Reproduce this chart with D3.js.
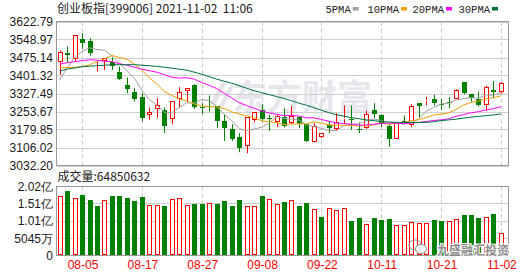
<!DOCTYPE html>
<html><head><meta charset="utf-8">
<script src="https://cdn.jsdelivr.net/npm/d3@7"></script>
<style>html,body{margin:0;padding:0;background:#fff;} svg{display:block;}</style>
</head><body>
<svg id="c" width="530" height="276"></svg>
<script>
// ---------- data ----------
const dates = ["08-02","08-03","08-04","08-05","08-06","08-09","08-10","08-11","08-12","08-13",
"08-16","08-17","08-18","08-19","08-20","08-23","08-24","08-25","08-26","08-27",
"08-30","08-31","09-01","09-02","09-03","09-06","09-07","09-08","09-09","09-10",
"09-13","09-14","09-15","09-16","09-17","09-22","09-23","09-24","09-27","09-28",
"09-29","09-30","10-08","10-11","10-12","10-13","10-14","10-15","10-18","10-19",
"10-20","10-21","10-22","10-25","10-26","10-27","10-28","10-29","11-01","11-02"];
const open  = [3454.7,3494.0,3467.0,3550.2,3540.8,3461.0,3460.0,3457.1,3417.7,3362.8,
3332.8,3312.3,3239.8,3261.9,3257.8,3222.1,3305.4,3335.7,3362.8,3270.1,
3276.0,3274.2,3212.7,3181.1,3147.1,3110.2,3219.3,3257.8,3228.0,3211.1,
3229.1,3204.5,3231.6,3201.6,3127.8,3147.1,3198.7,3181.1,3222.1,3222.1,
3183.0,3188.0,3257.8,3239.8,3194.6,3141.3,3216.0,3198.7,3287.7,3300.0,
3305.4,3285.0,3292.0,3305.4,3373.9,3324.6,3305.4,3278.3,3342.3,3331.6];
const high  = [3503.9,3520.3,3566.0,3574.8,3554.3,3463.5,3472.0,3475.2,3438.2,3393.1,
3349.3,3328.7,3270.1,3308.3,3270.1,3295.5,3353.4,3350.0,3365.0,3287.7,
3319.3,3275.0,3239.8,3201.6,3164.7,3230.0,3250.5,3283.6,3239.8,3239.8,
3267.2,3276.7,3232.0,3202.0,3205.7,3164.0,3212.7,3246.7,3278.3,3278.3,
3208.6,3257.8,3287.7,3241.0,3201.6,3209.0,3237.3,3283.6,3288.0,3312.3,
3321.8,3305.4,3312.3,3345.2,3374.2,3325.0,3335.7,3360.3,3379.2,3373.9];
const low   = [3403.8,3451.8,3458.8,3510.4,3483.4,3417.7,3424.3,3424.3,3383.3,3328.7,
3294.7,3212.7,3219.3,3226.2,3165.9,3201.6,3270.1,3294.7,3264.4,3243.9,
3253.7,3185.2,3133.1,3133.1,3086.8,3082.7,3208.6,3212.7,3174.2,3190.5,
3188.0,3201.6,3185.2,3129.0,3127.0,3146.5,3164.7,3174.2,3201.6,3178.3,
3164.7,3182.3,3226.2,3190.5,3108.5,3140.8,3205.7,3189.3,3229.1,3278.3,
3278.3,3260.3,3267.2,3305.0,3324.6,3294.7,3274.2,3256.2,3308.3,3327.5];
const close = [3498.1,3483.4,3565.4,3533.8,3494.0,3461.2,3471.1,3442.3,3386.2,3345.2,
3304.1,3226.2,3249.6,3278.3,3194.6,3294.7,3332.8,3349.3,3270.1,3267.0,
3274.2,3215.2,3185.2,3141.3,3103.2,3229.1,3249.6,3222.1,3226.2,3233.2,
3196.2,3235.7,3201.6,3130.7,3192.2,3163.5,3185.2,3208.6,3226.2,3219.0,
3181.0,3244.0,3242.0,3201.6,3141.3,3208.6,3214.0,3274.2,3276.7,3301.3,
3287.7,3283.6,3290.6,3339.8,3328.7,3308.3,3278.3,3353.4,3334.0,3369.8];
const volume = [172600000,188000000,167000000,176000000,162000000,144000000,161000000,173000000,173000000,168000000,
159000000,171000000,149000000,149000000,144000000,164000000,167000000,149000000,152000000,150000000,
155000000,150000000,159000000,144000000,162000000,146000000,146000000,173000000,164000000,152000000,
156000000,162000000,144000000,153000000,135000000,112000000,140000000,132000000,140000000,100000000,
109000000,93000000,109000000,103000000,106000000,90000000,90000000,99000000,96000000,96000000,
103000000,100000000,102000000,106000000,118000000,118000000,109000000,114000000,121000000,64850632];
const ma5  = [3383.3,3431.0,3475.0,3499.8,3514.9,3507.6,3505.1,3480.5,3451.0,3421.2,
3389.8,3340.8,3302.3,3280.7,3250.6,3248.7,3270.0,3289.9,3288.3,3302.8,
3298.7,3275.2,3242.3,3216.6,3183.8,3174.8,3181.7,3189.1,3206.0,3232.0,
3225.5,3222.7,3218.6,3199.5,3191.3,3184.7,3174.6,3176.0,3195.1,3200.5,
3204.0,3215.8,3222.4,3217.5,3202.0,3207.5,3201.5,3207.9,3223.0,3255.0,
3270.8,3284.7,3288.0,3300.6,3306.1,3310.2,3309.1,3321.7,3320.5,3328.8];
const ma10 = [3434.1,3434.1,3434.1,3438.2,3444.8,3458.7,3469.4,3483.4,3475.1,3468.1,
3448.7,3423.0,3391.4,3365.9,3335.9,3319.3,3305.4,3296.1,3284.5,3276.7,
3273.7,3272.6,3266.1,3252.5,3243.3,3236.8,3228.5,3215.7,3211.3,3207.9,
3200.2,3202.2,3203.9,3202.8,3211.7,3205.1,3198.7,3197.3,3197.3,3195.9,
3194.4,3195.2,3199.2,3206.3,3201.3,3206.0,3208.9,3215.4,3220.5,3228.7,
3239.2,3243.1,3248.0,3261.8,3280.6,3290.5,3296.9,3304.9,3310.6,3317.5];
const ma20 = [3447.7,3453.8,3457.9,3462.0,3466.1,3464.1,3460.0,3457.9,3449.7,3443.6,
3435.4,3427.2,3421.0,3414.9,3404.6,3394.4,3390.3,3392.3,3386.2,3372.4,
3361.2,3347.8,3328.8,3309.2,3289.6,3278.1,3267.0,3255.9,3247.9,3242.3,
3237.0,3237.4,3235.0,3227.7,3227.5,3221.0,3213.6,3206.5,3204.3,3201.9,
3197.3,3198.7,3201.6,3204.6,3206.5,3205.6,3203.8,3206.4,3208.9,3212.3,
3216.9,3219.3,3223.7,3234.2,3241.1,3248.3,3252.9,3260.2,3265.6,3273.1];
const ma30 = [3420.2,3427.2,3432.1,3437.4,3439.5,3441.5,3443.6,3445.6,3445.6,3445.6,
3445.6,3443.6,3441.5,3438.6,3435.4,3431.3,3427.2,3423.1,3414.9,3406.7,
3396.4,3386.2,3378.0,3369.8,3359.5,3349.3,3339.0,3330.8,3323.0,3315.0,
3307.0,3298.0,3287.7,3279.5,3269.4,3259.0,3248.8,3240.6,3234.4,3228.3,
3224.2,3219.2,3216.0,3212.7,3210.6,3209.0,3208.6,3208.6,3208.6,3209.0,
3211.9,3216.0,3219.3,3222.1,3226.2,3230.4,3233.6,3236.5,3239.4,3243.9];
const priceTicks = [3032.20,3106.02,3179.85,3253.67,3327.49,3401.32,3475.14,3548.97,3622.79];
const volTicks = [0,50450000,100900000,151350000,201800000];
const xTickDates = ["08-05","08-17","08-27","09-08","09-22","10-11","10-21","11-02"];
const maNames = ["5PMA","10PMA","20PMA","30PMA"];
const title = "创业板指[399006] 2021-11-02  11:06";

// ---------- layout ----------
const L = 56.5, R = 508.5;
const pTop = 21.5, pBot = 165.5, vTop = 186.5, vBot = 255.5;
const RED = "#ff0000", GREEN = "#008000";
const maColors = ["#a0a0a0","#f0a000","#ff00ff","#007040"];
const maData = [ma5, ma10, ma20, ma30];
const n = close.length;

const svg = d3.select("#c");
const x = d3.scaleLinear().domain([0, n - 1]).range([59.6, 500.9]);
const y = d3.scaleLinear().domain([priceTicks[0], priceTicks[priceTicks.length - 1]]).range([pBot, pTop]);
const yv = d3.scaleLinear().domain([0, volTicks[volTicks.length - 1]]).range([vBot, vTop]);
const px = i => Math.round(x(i));

// ---------- watermark (behind) ----------
const wm = svg.append("g");
wm.append("path").attr("d","M210,104 L222,82 L226,84 L215,106 Z M219,106 L231,84 L234,86 L223,108 Z")
  .attr("fill","#e4e4ea");
wm.append("text").attr("x",232).attr("y",110).text("东方财富")
  .attr("font-family","Noto Sans CJK SC").attr("font-weight","bold").attr("font-size",35)
  .attr("fill","#e6e6ec");

// ---------- grids ----------
function panel(top, bot) {
  const g = svg.append("g");
  xTickDates.forEach(d => {
    const xi = px(dates.indexOf(d)) + 0.5;
    g.append("line").attr("x1",xi).attr("x2",xi).attr("y1",top).attr("y2",bot)
      .attr("stroke","#c8c8c8").attr("stroke-dasharray","4,3");
  });
  return g;
}
const gp = panel(pTop, pBot);
priceTicks.forEach(t => {
  const yy = Math.round(y(t)) + 0.5;
  gp.append("line").attr("x1",L).attr("x2",R).attr("y1",yy).attr("y2",yy).attr("stroke","#d0d0d0");
});
const gv = panel(vTop, vBot);
volTicks.forEach(t => {
  const yy = Math.round(yv(t) - 0.5) + 0.5;
  gv.append("line").attr("x1",L).attr("x2",R).attr("y1",yy).attr("y2",yy).attr("stroke","#d0d0d0");
});
[[pTop,pBot],[vTop,vBot]].forEach(([t,b]) => {
  svg.append("rect").attr("x",L).attr("y",t).attr("width",R-L).attr("height",b-t)
    .attr("fill","none").attr("stroke","#999");
});

// ---------- axis labels ----------
const axisFont = "Liberation Sans";
const ayp = d3.axisLeft(y).tickValues(priceTicks).tickSize(0).tickPadding(0).tickFormat(d => d.toFixed(2));
svg.append("g").attr("transform",`translate(53,0)`).call(ayp)
  .call(g => g.select(".domain").remove())
  .selectAll("text").attr("font-family",axisFont).attr("font-size",12).attr("fill","#1a1a1a");
const volFmt = v => v === 0 ? "0" : v >= 1e8 ? (v/1e8).toFixed(2) + "亿" : Math.round(v/1e4) + "万";
const ayv = d3.axisLeft(yv).tickValues(volTicks).tickSize(0).tickPadding(0).tickFormat(volFmt);
svg.append("g").attr("transform",`translate(53,0)`).call(ayv)
  .call(g => g.select(".domain").remove())
  .selectAll("text").attr("font-family",axisFont).attr("font-size",12).attr("fill","#1a1a1a");
const ax = d3.axisBottom(d3.scaleLinear().domain(x.domain()).range(x.range()))
  .tickValues(xTickDates.map(d => dates.indexOf(d))).tickSize(0).tickPadding(0)
  .tickFormat(i => dates[i]);
svg.append("g").attr("transform",`translate(0.5,260)`).call(ax)
  .call(g => g.select(".domain").remove())
  .selectAll("text").attr("font-family",axisFont).attr("font-size",12).attr("fill",RED);

// ---------- candles ----------
const cg = svg.append("g");
d3.range(n).forEach(i => {
  const cx = px(i), o = open[i], c = close[i];
  const up = c > o;
  const yt = y(Math.max(o,c)), yb = y(Math.min(o,c));
  const top = Math.round(yt), bot = Math.max(Math.round(yb), top + 1);
  const col = up ? RED : GREEN;
  if (up) {
    cg.append("line").attr("x1",cx+0.5).attr("x2",cx+0.5).attr("y1",y(high[i])).attr("y2",top)
      .attr("stroke",col);
    cg.append("line").attr("x1",cx+0.5).attr("x2",cx+0.5).attr("y1",bot).attr("y2",y(low[i]))
      .attr("stroke",col);
    cg.append("rect").attr("x",cx-1.5).attr("y",top+0.5).attr("width",4).attr("height",Math.max(bot-top-1,0))
      .attr("fill","#fff").attr("stroke",col);
  } else {
    cg.append("line").attr("x1",cx+0.5).attr("x2",cx+0.5).attr("y1",y(high[i])).attr("y2",y(low[i]))
      .attr("stroke",col);
    cg.append("rect").attr("x",cx-2).attr("y",top).attr("width",5).attr("height",bot-top)
      .attr("fill",col);
  }
});

// ---------- moving averages ----------
maData.forEach((arr, k) => {
  const line = d3.line().x((d,i) => x(i)).y(d => y(d));
  svg.append("path").attr("d", line(arr)).attr("fill","none")
    .attr("stroke", maColors[k]).attr("stroke-width",1);
});

// ---------- volume ----------
const vg = svg.append("g");
d3.range(n).forEach(i => {
  const cx = px(i);
  const up = i === 0 ? true : close[i] >= close[i-1];
  const top = Math.round(yv(volume[i]));
  if (up) {
    vg.append("rect").attr("x",cx-1.5).attr("y",top+0.5).attr("width",4).attr("height",vBot-0.5-top-1)
      .attr("fill","#fff").attr("stroke",RED);
  } else {
    vg.append("rect").attr("x",cx-2).attr("y",top).attr("width",5).attr("height",vBot-0.5-top)
      .attr("fill",GREEN);
  }
});

// ---------- title, legend ----------
svg.append("text").attr("x",57).attr("y",13).attr("xml:space","preserve").style("white-space","pre")
  .attr("font-family","Noto Sans CJK SC").attr("font-size",12).attr("fill","#222").text(title);
const legX = [325.5, 367.5, 412.5, 458.5];
maNames.forEach((nm, k) => {
  const t = svg.append("text").attr("x",legX[k]).attr("y",12.5).text(nm)
    .attr("font-family","Liberation Mono").attr("font-size",10.5).attr("fill","#222");
  const w = t.node().getComputedTextLength();
  svg.append("rect").attr("x",legX[k]+w+2).attr("y",7).attr("width",6).attr("height",3.5)
    .attr("fill",maColors[k]);
});
svg.append("text").attr("x",57.5).attr("y",181).attr("font-family","Noto Sans CJK SC")
  .attr("font-size",12).attr("fill","#222").text("成交量:" + volume[n-1]);

// ---------- bottom-right watermark ----------
const bw = svg.append("g").attr("fill","none").attr("stroke","#8c8c8c").attr("stroke-width",1);
bw.append("ellipse").attr("cx",415).attr("cy",245).attr("rx",6).attr("ry",5);
bw.append("ellipse").attr("cx",421).attr("cy",249).attr("rx",5.5).attr("ry",4.5).attr("fill","#fff");
svg.append("text").attr("x",437).attr("y",254.5).text("九盛融汇投资")
  .attr("font-family","Noto Sans CJK SC").attr("font-size",12).attr("font-weight","bold")
  .attr("fill","#8a8a8a").attr("stroke","#fff").attr("stroke-width",2).attr("paint-order","stroke");
</script>
</body></html>
